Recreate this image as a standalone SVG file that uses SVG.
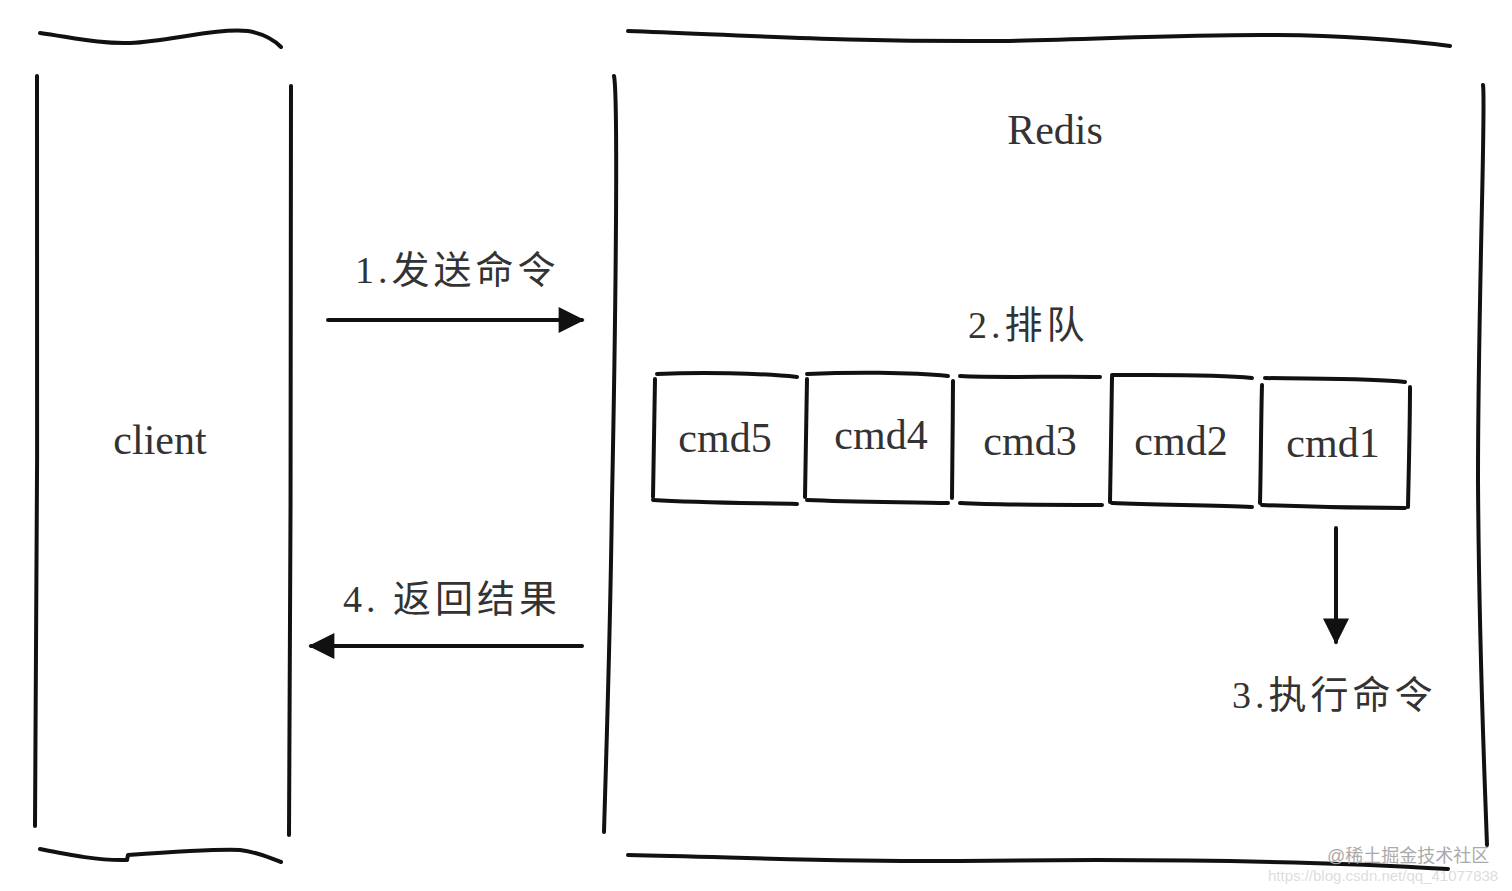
<svg xmlns="http://www.w3.org/2000/svg" width="1512" height="891" viewBox="0 0 1512 891">
<style>
  .ink{fill:none;stroke:#111;stroke-width:4;stroke-linecap:round;stroke-linejoin:round}
  .box{fill:none;stroke:#111;stroke-width:4;stroke-linecap:round;stroke-linejoin:round}
  .lbl{font-family:"Liberation Serif","Noto Sans CJK SC",serif;font-size:42px;fill:#333}
  .cn{font-family:"Liberation Serif","Noto Sans CJK SC",serif;font-size:38px;fill:#333;letter-spacing:4px}
  .wm1{font-family:"Liberation Sans","Noto Sans CJK SC",sans-serif;font-size:18px;fill:#aaa}
  .wm2{font-family:"Liberation Sans",sans-serif;font-size:15px;fill:#ddd}
</style>
<defs>
  <marker id="ah" viewBox="0 0 10 10" refX="9" refY="5" markerWidth="34" markerHeight="26" markerUnits="userSpaceOnUse" orient="auto">
    <path d="M0,0 L10,5 L0,10 Z" fill="#111"/>
  </marker>
</defs>
<rect width="1512" height="891" fill="#fff"/>

<g id="client">
  <path class="ink" d="M40,33 C75,38 100,44 130,43 C170,41 215,28 248,31 C265,34 275,41 281,47"/>
  <path class="ink" d="M37,76 C38,300 37,600 35,826"/>
  <path class="ink" d="M291,86 C292,300 290,600 289,835"/>
  <path class="ink" d="M40,849 C70,855 100,861 127,860 L128,855 C170,852 215,849 240,850 C258,852 270,858 281,862"/>
  <text class="lbl" x="160" y="454" text-anchor="middle">client</text>
</g>

<g id="redis">
  <path class="ink" d="M628,31 C760,36 860,42 1000,41 C1150,39 1290,26 1450,46"/>
  <path class="ink" d="M614,76 C618,95 616,300 612,500 C610,650 606,760 604,832"/>
  <path class="ink" d="M1483,85 C1486,100 1478,300 1478,480 C1479,650 1484,760 1487,845"/>
  <path class="ink" d="M628,855 C760,858 860,862 960,861 C1120,859 1300,860 1448,869"/>
  <text class="lbl" x="1055" y="144" text-anchor="middle">Redis</text>
</g>

<g id="queue-label">
  <text class="cn" x="968" y="338">2.排队</text>
</g>

<g id="cmd5">
  <path class="box" d="M657,374 C700,372 760,373 797,377"/>
  <path class="box" d="M655,379 C654,420 654,460 653,497"/>
  <path class="box" d="M653,500 C700,503 760,503 797,504"/>
  <text class="lbl" x="725" y="452" text-anchor="middle">cmd5</text>
</g>
<g id="cmd4">
  <path class="box" d="M807,374 C850,372 910,372 948,376"/>
  <path class="box" d="M807,379 C806,420 806,460 805,497"/>
  <path class="box" d="M953,381 C953,420 952,460 952,498"/>
  <path class="box" d="M807,500 C850,502 910,502 948,503"/>
  <text class="lbl" x="881" y="449" text-anchor="middle">cmd4</text>
</g>
<g id="cmd3">
  <path class="box" d="M960,376 C1000,378 1060,376 1100,377"/>
  <path class="box" d="M960,503 C1000,505 1060,505 1102,505"/>
  <text class="lbl" x="1030" y="455" text-anchor="middle">cmd3</text>
</g>
<g id="cmd2">
  <path class="box" d="M1112,375 C1160,375 1215,374 1252,378"/>
  <path class="box" d="M1112,377 C1111,420 1111,460 1110,502"/>
  <path class="box" d="M1112,503 C1160,505 1215,505 1252,507"/>
  <text class="lbl" x="1181" y="455" text-anchor="middle">cmd2</text>
</g>
<g id="cmd1">
  <path class="box" d="M1265,378 C1310,379 1370,378 1405,382"/>
  <path class="box" d="M1262,385 C1261,420 1261,460 1260,503"/>
  <path class="box" d="M1410,387 C1410,420 1409,460 1408,507"/>
  <path class="box" d="M1262,505 C1310,507 1370,508 1405,508"/>
  <text class="lbl" x="1333" y="457" text-anchor="middle">cmd1</text>
</g>

<g id="connectors">
  <path class="ink" d="M328,320 L582,320" marker-end="url(#ah)"/>
  <path class="ink" d="M582,646 L311,646" marker-end="url(#ah)"/>
  <path class="ink" d="M1336,528 L1336,642" marker-end="url(#ah)"/>
</g>

<g id="connector-labels">
  <text class="cn" x="355" y="283">1.发送命令</text>
  <text class="cn" x="343" y="612">4. 返回结果</text>
  <text class="cn" x="1232" y="708">3.执行命令</text>
</g>

<g id="watermark">
  <text class="wm1" x="1327" y="862">@稀土掘金技术社区</text>
  <text class="wm2" x="1268" y="881">https://blog.csdn.net/qq_41077838</text>
</g>
</svg>
